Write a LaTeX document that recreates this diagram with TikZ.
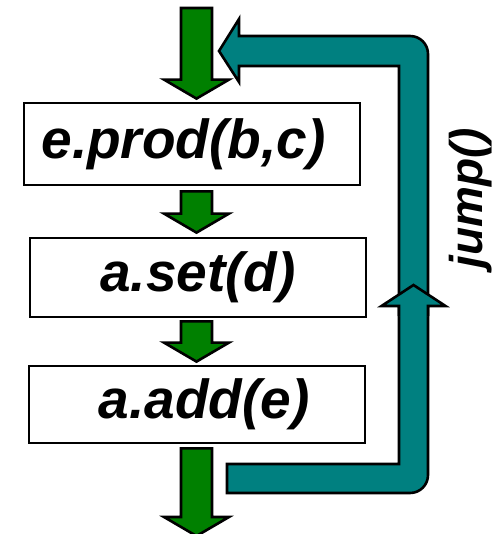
\documentclass[tikz,border=0pt]{standalone}
\usepackage{fontspec}
\setmainfont{Liberation Sans}
\usetikzlibrary{calc}
\definecolor{agreen}{RGB}{0,128,0}
\definecolor{ateal}{RGB}{0,128,128}
\newcommand\gdown[2]{%
  \draw[garrow] ($(#1)+(-15.5,0)$) -- ($(#1)+(15.5,0)$) -- ($(#1 |- #2)+(15.5,-19)$)
    -- ($(#1 |- #2)+(32.5,-19)$) -- (#1 |- #2) -- ($(#1 |- #2)+(-32.5,-19)$)
    -- ($(#1 |- #2)+(-15.5,-19)$) -- cycle;}
\begin{document}
\begin{tikzpicture}[x=1pt,y=-1pt,
  box/.style={draw=black,line width=2.8pt,fill=white,minimum width=336pt,inner sep=0pt,
    font=\fontsize{55}{62}\selectfont\bfseries\itshape},
  garrow/.style={draw=black,fill=agreen,line width=2.6pt,line join=miter},
  tarrow/.style={draw=black,fill=ateal,line width=2.6pt,line join=miter},
  lbl/.style={font=\fontsize{46}{52}\selectfont\bfseries\itshape}]
\useasboundingbox (0,0) rectangle (496,534);
% boxes
\node[box,minimum height=82pt] (b1) at (192,144) {\hspace*{-17pt}e.prod(b,c)};
\node[box,minimum height=79pt] (b2) at (198,277.5) {\raisebox{-2pt}{a.set(d)}};
\node[box,minimum height=77pt] (b3) at (197,404.5) {\hspace*{14pt}a.add(e)};
% teal loop
\coordinate (lstart) at (227,464);
\coordinate (lend) at (219,51);
\draw[tarrow] (lstart) -- (399,464) -- (399,66) -- (239,66) -- (239,82) -- (lend)
  -- (239,19) -- (239,36) -- (410,36) .. controls (420,36) and (428,44) .. (428,54)
  -- (428,475) .. controls (428,485) and (420,493) .. (410,493) -- (227,493) -- cycle;
% mid arrowhead on loop
\coordinate (mtip) at (413.5,285);
\fill[ateal] (399,316) -- (399,306) -- (381.5,306) -- (mtip) -- (445.5,306) -- (428,306) -- (428,316) -- cycle;
\draw[tarrow,fill=none] (399,316) -- (399,306) -- (381.5,306) -- (mtip) -- (445.5,306) -- (428,306) -- (428,316);
\node[lbl,rotate=90] (jl) at (471,198) {jump()};
% green arrows
\coordinate (s1) at (196.5,8);
\coordinate (t1) at ($(b1.north -| s1)+(0,-3)$);
\coordinate (s2) at ($(b1.south -| s1)+(0,5)$);
\coordinate (t2) at ($(b2.north -| s1)+(0,-4)$);
\coordinate (s3) at ($(b2.south -| s1)+(0,3)$);
\coordinate (t3) at ($(b3.north -| s1)+(0,-3)$);
\coordinate (s4) at ($(b3.south -| s1)+(0,4)$);
\coordinate (t4) at (196.5,536);
\gdown{s1}{t1}
\gdown{s2}{t2}
\gdown{s3}{t3}
\gdown{s4}{t4}
\end{tikzpicture}
\end{document}
